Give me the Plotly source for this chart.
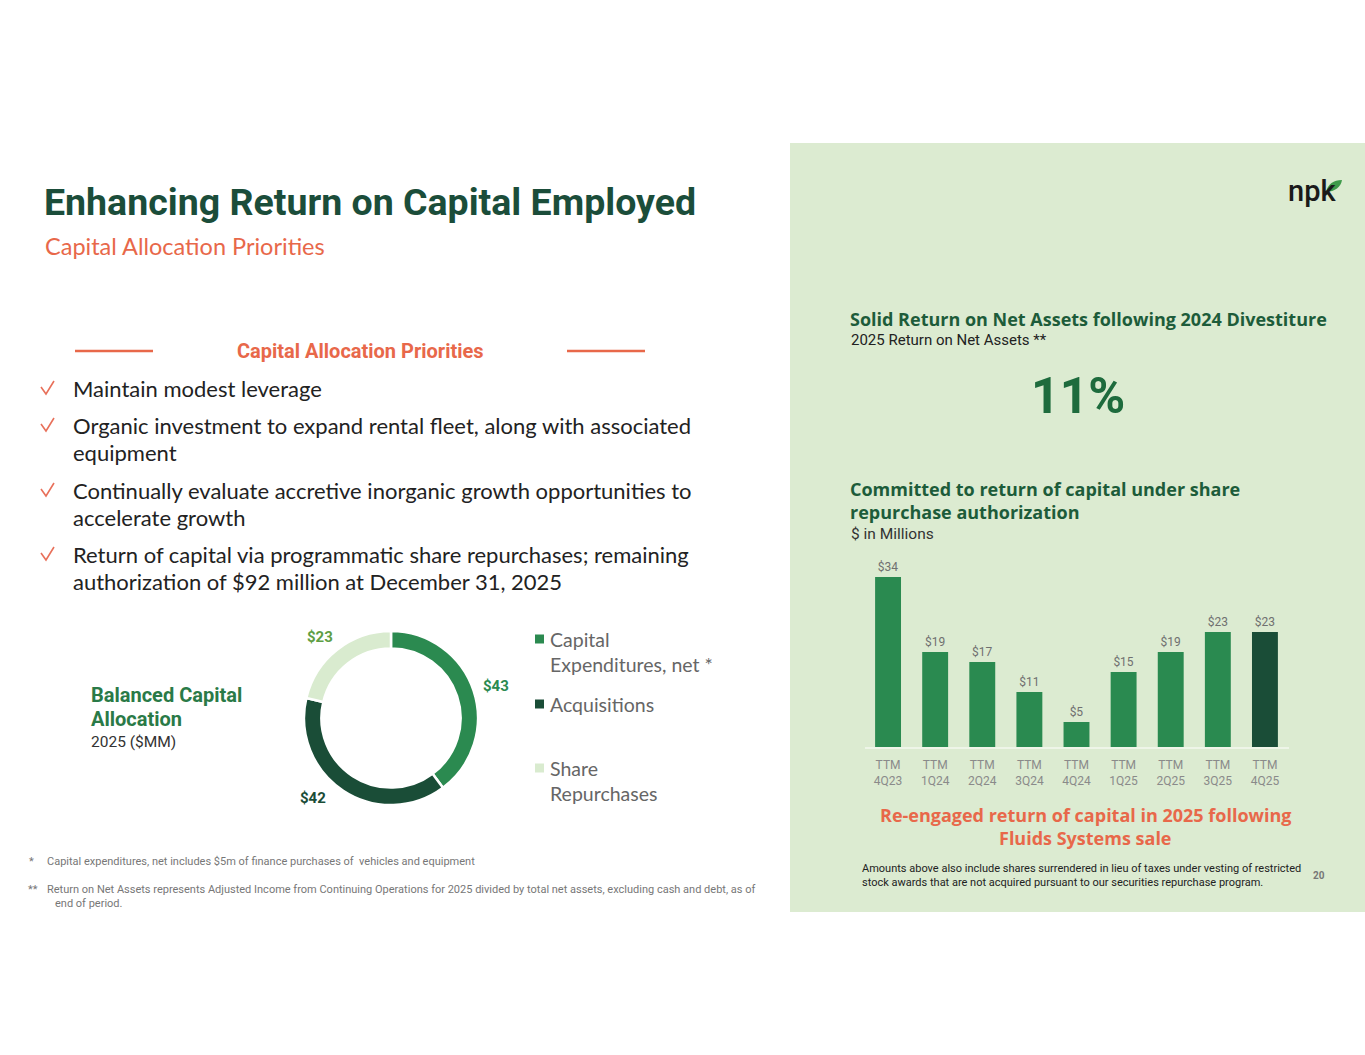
import plotly.graph_objects as go

W, H = 1365, 1055

# ---------------- data ----------------
donut_labels = ["Capital Expenditures, net *", "Acquisitions", "Share Repurchases"]
donut_values = [43, 42, 23]
donut_colors = ["#2B8A50", "#1A4D37", "#D9EBCF"]
donut_text_colors = ["#2B8A50", "#1A4D37", "#5E9E44"]

bar_categories = ["4Q23", "1Q24", "2Q24", "3Q24", "4Q24", "1Q25", "2Q25", "3Q25", "4Q25"]
bar_values = [34, 19, 17, 11, 5, 15, 19, 23, 23]
bar_ticktext = ["TTM<br>" + c for c in bar_categories]
bar_colors = ["#2A8A50"] * 8 + ["#1A4D37"]

bullets = [
    ["Maintain modest leverage"],
    ["Organic investment to expand rental fleet, along with associated", "equipment"],
    ["Continually evaluate accretive inorganic growth opportunities to", "accelerate growth"],
    ["Return of capital via programmatic share repurchases; remaining",
     "authorization of $92 million at December 31, 2025"],
]

# --------------- helpers ---------------
def xp(x):
    return x / W

def yp(y):
    return 1 - y / H

DARK_GREEN = "#1B4D3A"
CORAL = "#E8684A"
PANEL = "#DCEBD1"

fig = go.Figure()

# Donut
cx, cy, r = 391, 718, 87
fig.add_trace(go.Pie(
    labels=donut_labels, values=donut_values, sort=False, direction="clockwise",
    rotation=0, hole=0.8, textinfo="none", hoverinfo="label+value",
    marker=dict(colors=donut_colors, line=dict(color="white", width=2.5)),
    domain=dict(x=[xp(cx - r), xp(cx + r)], y=[yp(cy + r), yp(cy - r)]),
    showlegend=False,
))

# Bars
fig.add_trace(go.Bar(
    x=bar_categories, y=bar_values, marker=dict(color=bar_colors, line=dict(width=0)),
    texttemplate="$%{y}", textposition="outside", cliponaxis=False,
    textfont=dict(family="Roboto", size=12, color="#707070"),
    showlegend=False,
))

fig.update_layout(
    width=W, height=H, margin=dict(l=0, r=0, t=0, b=0),
    paper_bgcolor="white", plot_bgcolor="rgba(0,0,0,0)",
    bargap=0.45,
    xaxis=dict(domain=[xp(864.5), xp(1288.5)], tickmode="array", tickvals=bar_categories,
               ticktext=bar_ticktext, showgrid=False, zeroline=False,
               showline=True, linecolor="#EEF5E8", linewidth=1.5, ticks="",
               tickfont=dict(family="Roboto", size=12, color="#8A8A8A"),
               ticklabelstandoff=6, fixedrange=True),
    yaxis=dict(domain=[yp(747), yp(747 - 38 * 5.0)], range=[0, 38], visible=False,
               fixedrange=True),
)

shapes = []
# green panel
shapes.append(dict(type="rect", xref="paper", yref="paper", x0=xp(790), x1=1, y0=yp(912), y1=yp(143),
                   fillcolor=PANEL, line=dict(width=0), layer="below"))
# header lines
for x0, x1 in [(75, 153), (567, 645)]:
    shapes.append(dict(type="line", xref="paper", yref="paper", x0=xp(x0), x1=xp(x1), y0=yp(351), y1=yp(351),
                       line=dict(color=CORAL, width=2.5)))
# legend squares
for c, y in zip(donut_colors, [639, 704, 768]):
    shapes.append(dict(type="rect", xref="paper", yref="paper", x0=xp(535), x1=xp(544), y0=yp(y + 4.5), y1=yp(y - 4.5),
                       fillcolor=c, line=dict(width=0)))
# check marks
for y in [388, 425, 490, 554]:
    shapes.append(dict(type="path", xref="paper", yref="paper",
                       path=f"M {xp(41)},{yp(y - 1)} L {xp(46)},{yp(y + 6)} L {xp(54)},{yp(y - 7)}",
                       line=dict(color="#E8705A", width=1.6)))
# npk leaf
shapes.append(dict(type="path", xref="paper", yref="paper",
                   path=f"M {xp(1326)},{yp(192)} Q {xp(1329)},{yp(180)} {xp(1342)},{yp(180)} "
                        f"Q {xp(1340)},{yp(191)} {xp(1326)},{yp(192)} Z",
                   fillcolor="#3E9A4A", line=dict(width=0)))

ann = []
def add(text, x, y, size, color, family="Lato", xanchor="left", bold=False, align="left", weight=None):
    if bold:
        text = f"<b>{text}</b>"
    f = dict(family=family, size=size, color=color)
    if weight is not None:
        f["weight"] = weight
    ann.append(dict(text=text, x=xp(x), y=yp(y), xref="paper", yref="paper", showarrow=False,
                    xanchor=xanchor, yanchor="middle", align=align, font=f))

# Title
add("Enhancing Return on Capital Employed", 42, 202, 37.5, DARK_GREEN, family="Roboto", bold=True)
add("Capital Allocation Priorities", 43, 246, 23.5, CORAL, family="Lato")

# Header
add("Capital Allocation Priorities", 360, 351, 20, CORAL, family="Roboto", xanchor="center", bold=True)

# Bullets
line_y = [[388], [425, 452], [490, 517], [554, 581]]
for lines, ys in zip(bullets, line_y):
    for t, y in zip(lines, ys):
        add(t, 71, y, 22, "#222222", family="Lato")

# Donut side text
add("Balanced Capital", 89, 695, 20, "#2A7A47", family="Roboto", bold=True)
add("Allocation", 89, 719, 20, "#2A7A47", family="Roboto", bold=True)
add("2025 ($MM)", 89, 742, 15.5, "#333333", family="Roboto")

# Donut value labels
for v, c, (x, y) in zip(donut_values, donut_text_colors, [(496, 686), (313, 798), (320, 637)]):
    add(f"${v}", x, y, 15, c, family="Roboto", xanchor="center", bold=True)

# Legend texts
leg = [("Capital", 639), ("Expenditures, net *", 664), ("Acquisitions", 704), ("Share", 768), ("Repurchases", 793)]
for t, y in leg:
    add(t, 548, y, 19.5, "#666666", family="Lato")

# Footnotes
add("*", 27, 861, 11, "#777777", family="Roboto")
add("Capital expenditures, net includes $5m of finance purchases of  vehicles and equipment", 45, 861, 11, "#777777", family="Roboto")
add("**", 26, 889, 11, "#777777", family="Roboto")
add("Return on Net Assets represents Adjusted Income from Continuing Operations for 2025 divided by total net assets, excluding cash and debt, as of",
    45, 889, 11, "#777777", family="Roboto")
add("end of period.", 53, 903, 11, "#777777", family="Roboto")

# Right panel text
add("npk", 1312, 191, 29, "#1A1A1A", family="Roboto", xanchor="center", weight=500)
add("Solid Return on Net Assets following 2024 Divestiture", 848, 319, 18, "#1D5C3A", family="Open Sans", bold=True)
add("2025 Return on Net Assets **", 849, 340, 15, "#222222", family="Roboto")
add("11%", 1078, 396, 50, "#1E6B3D", family="Roboto", xanchor="center", bold=True)
add("Committed to return of capital under share", 848, 489, 18, "#1D5C3A", family="Open Sans", bold=True)
add("repurchase authorization", 848, 512, 18, "#1D5C3A", family="Open Sans", bold=True)
add("$ in Millions", 849, 534, 15.5, "#333333", family="Roboto")
add("Re-engaged return of capital in 2025 following", 1085, 815, 18, CORAL, family="Open Sans", xanchor="center", bold=True)
add("Fluids Systems sale", 1085, 838, 18, CORAL, family="Open Sans", xanchor="center", bold=True)
add("Amounts above also include shares surrendered in lieu of taxes under vesting of restricted", 860, 868, 11, "#222222", family="Roboto")
add("stock awards that are not acquired pursuant to our securities repurchase program.", 860, 882, 11, "#222222", family="Roboto")
add("20", 1319, 875, 10, "#777777", family="Roboto", xanchor="center", bold=True)

fig.update_layout(shapes=shapes, annotations=ann)
fig.write_html("out.html", config={"displayModeBar": False},
               post_script="document.body.style.margin='0';document.body.style.overflow='hidden';")
